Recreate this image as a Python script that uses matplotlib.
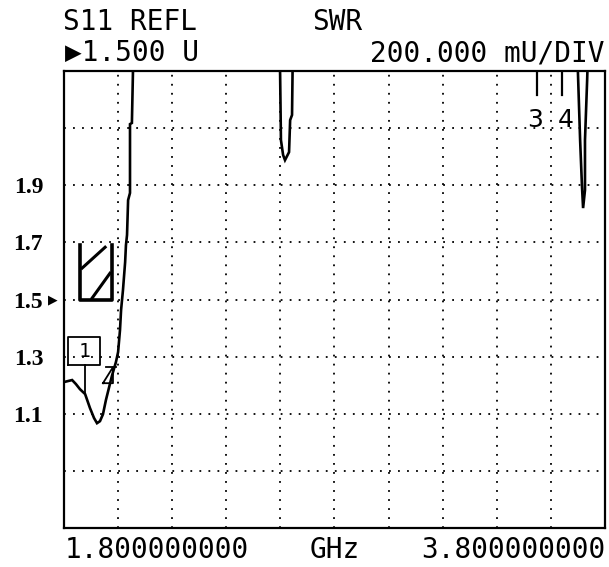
import matplotlib
matplotlib.use("Agg")
import matplotlib.pyplot as plt

# S11 SWR trace (GHz, SWR); values above 2.3 are off-screen
freq_ghz = [1.800, 1.830, 1.844, 1.859, 1.878, 1.896, 1.911, 1.922, 1.933, 1.944,
            1.955, 1.966, 1.977, 1.992, 2.000, 2.007, 2.011, 2.018, 2.026, 2.029,
            2.033, 2.037, 2.044, 2.044, 2.051, 2.055, 2.062,
            2.595, 2.599, 2.602, 2.610, 2.617, 2.632, 2.636, 2.643, 2.645, 2.648,
            3.697, 3.700, 3.708, 3.715, 3.719, 3.726, 3.726, 3.734, 3.735, 3.738, 3.800]
swr = [1.211, 1.218, 1.204, 1.186, 1.169, 1.120, 1.085, 1.067, 1.074, 1.098,
       1.148, 1.190, 1.232, 1.281, 1.316, 1.393, 1.463, 1.533, 1.631, 1.690,
       1.726, 1.848, 1.873, 2.114, 2.118, 2.300, 2.450,
       2.450, 2.286, 2.058, 2.006, 1.988, 2.016, 2.128, 2.146, 2.300, 2.450,
       2.450, 2.293, 2.058, 1.894, 1.820, 1.883, 2.058, 2.268, 2.300, 2.450, 2.450]

x_grid = [1.8 + 0.2 * i for i in range(11)]
y_grid = [0.9, 1.1, 1.3, 1.5, 1.7, 1.9, 2.1]
y_labels = ["", "1.1", "1.3", "1.5", "1.7", "1.9", ""]

# marker positions (GHz) for markers 3 and 4
marker_34 = [3.549, 3.641]

fig = plt.figure(figsize=(6.09, 5.67), dpi=100)
ax = fig.add_axes([64 / 609, 1 - 528 / 567, 541 / 609, 457 / 567])
ax.set_xlim(1.8, 3.8)
ax.set_ylim(0.7, 2.3)

ax.set_xticks(x_grid)
ax.set_xticklabels([])
ax.set_yticks(y_grid)
ax.set_yticklabels(y_labels, fontfamily="Liberation Serif", fontweight="bold", fontsize=17)
ax.tick_params(length=0, pad=15)
ax.grid(True, color="black", linestyle=(0, (1, 4)), linewidth=1.3)
for s in ax.spines.values():
    s.set_linewidth(1.6)

# trace
ax.plot(freq_ghz, swr, color="black", linewidth=1.9, solid_joinstyle="miter")

# reference level arrow next to 1.5
ax.text(-0.012, 1.5, "\u25b6", transform=ax.get_yaxis_transform(), ha="right",
        va="center", fontsize=9, family="DejaVu Sans")

# marker 1 box and its stem
ax.plot([1.815, 1.933, 1.933, 1.815, 1.815], [1.270, 1.270, 1.368, 1.368, 1.270],
        color="black", linewidth=1.3)
ax.text(1.874, 1.318, "1", ha="center", va="center", fontsize=14, family="DejaVu Sans Mono")
ax.plot([1.878, 1.878], [1.270, 1.170], color="black", linewidth=1.3)

# marker 2 flag
ax.plot([1.944, 1.981, 1.981, 1.944], [1.207, 1.207, 1.263, 1.207], color="black", linewidth=1.3)
ax.plot([1.955, 1.992], [1.263, 1.263], color="black", linewidth=1.3)

# hatched active-marker block
ax.plot([1.859, 1.859, 1.977, 1.977], [1.690, 1.498, 1.498, 1.690], color="black", linewidth=2.6)
ax.plot([1.867, 1.952], [1.610, 1.683], color="black", linewidth=2.2)
ax.plot([1.904, 1.970], [1.505, 1.592], color="black", linewidth=2.2)

# markers 3 and 4 ticks at the top
for m in marker_34:
    ax.plot([m, m], [2.3, 2.216], color="black", linewidth=1.6)
ax.text(3.541, 2.128, "3", ha="center", va="center", fontsize=18, family="DejaVu Sans")
ax.text(3.655, 2.128, "4", ha="center", va="center", fontsize=18, family="DejaVu Sans")

mono = dict(family="DejaVu Sans Mono", fontsize=20, va="center")
fig.text(63 / 609, 1 - 22 / 567, "S11 REFL", ha="left", **mono)
fig.text(312 / 609, 1 - 22 / 567, "SWR", ha="left", **mono)
fig.text(65 / 609, 1 - 53 / 567, "\u25b61.500 U", ha="left", **mono)
fig.text(605 / 609, 1 - 53 / 567, "200.000 mU/DIV", ha="right", **mono)
fig.text(65 / 609, 1 - 550 / 567, "1.800000000", ha="left", **mono)
fig.text(310 / 609, 1 - 550 / 567, "GHz", ha="left", **mono)
fig.text(605 / 609, 1 - 550 / 567, "3.800000000", ha="right", **mono)

plt.savefig("out.png", dpi=100)
